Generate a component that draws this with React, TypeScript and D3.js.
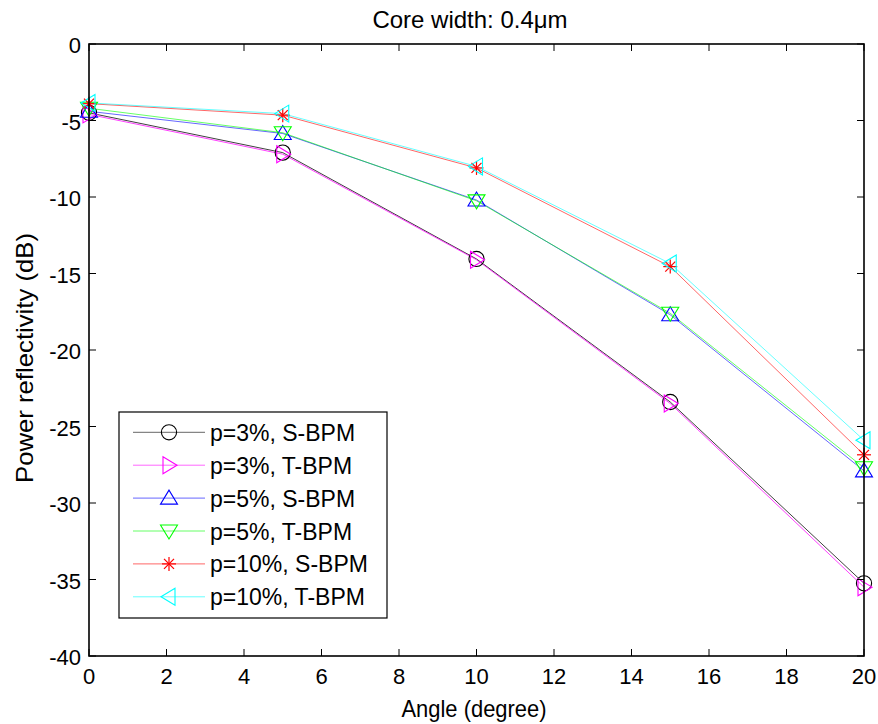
import React from "react";
import * as d3 from "d3";

const angles = [0, 5, 10, 15, 20];
const p3S = [-4.5, -7.1, -14.05, -23.4, -35.25];
const p3T = [-4.6, -7.2, -14.1, -23.5, -35.5];
const p5S = [-4.4, -5.85, -10.2, -17.7, -27.9];
const p5T = [-4.2, -5.8, -10.25, -17.6, -27.7];
const p10S = [-3.9, -4.65, -8.1, -14.55, -26.85];
const p10T = [-3.85, -4.55, -8.0, -14.35, -25.9];
const seriesNames = ["p=3%, S-BPM", "p=3%, T-BPM", "p=5%, S-BPM", "p=5%, T-BPM", "p=10%, S-BPM", "p=10%, T-BPM"];
const seriesColors = ["#000000", "#ff00ff", "#0000ff", "#00ff00", "#ff0000", "#00ffff"];
const seriesMarkers = ["circle", "triRight", "triUp", "triDown", "star", "triLeft"];
const seriesValues = [p3S, p3T, p5S, p5T, p10S, p10T];
const xTicks = [0, 2, 4, 6, 8, 10, 12, 14, 16, 18, 20];
const yTicks = [0, -5, -10, -15, -20, -25, -30, -35, -40];

const L = 89, R = 864, T = 44, B = 656;
const font = "Arial, 'Liberation Sans', sans-serif";

function Marker({ kind, x, y, color }: { kind: string; x: number; y: number; color: string }) {
  const w = 8.5, h1 = 8, h2 = 6;
  const common = { fill: "none", stroke: color, strokeWidth: 1.1 };
  if (kind === "circle") return <circle cx={x} cy={y} r={7.6} {...common} />;
  if (kind === "triUp")
    return <polygon points={`${x},${y - h1} ${x - w},${y + h2} ${x + w},${y + h2}`} {...common} />;
  if (kind === "triDown")
    return <polygon points={`${x},${y + h1} ${x - w},${y - h2} ${x + w},${y - h2}`} {...common} />;
  if (kind === "triRight")
    return <polygon points={`${x + h1},${y} ${x - h2},${y - w} ${x - h2},${y + w}`} {...common} />;
  if (kind === "triLeft")
    return <polygon points={`${x - h1},${y} ${x + h2},${y - w} ${x + h2},${y + w}`} {...common} />;
  const a = 7, b = 5;
  return (
    <g stroke={color} strokeWidth={1.2}>
      <line x1={x - a} y1={y} x2={x + a} y2={y} />
      <line x1={x} y1={y - a} x2={x} y2={y + a} />
      <line x1={x - b} y1={y - b} x2={x + b} y2={y + b} />
      <line x1={x - b} y1={y + b} x2={x + b} y2={y - b} />
    </g>
  );
}

export default function App() {
  const xs = d3.scaleLinear().domain([0, 20]).range([L, R]);
  const ys = d3.scaleLinear().domain([-40, 0]).range([B, T]);
  const line = d3
    .line<[number, number]>()
    .x((d) => xs(d[0]))
    .y((d) => ys(d[1]));

  const legX = 119, legY = 412, legW = 268, legH = 206;
  const rowY = (i: number) => 432.3 + i * 32.9;

  return (
    <svg width={878} height={724} style={{ position: "absolute", left: 0, top: 0, background: "#fff" }}>
      <rect x={0} y={0} width={878} height={724} fill="#fff" />
      {seriesValues.map((vals, i) => (
        <path
          key={"l" + i}
          d={line(angles.map((a, j) => [a, vals[j]] as [number, number])) || ""}
          fill="none"
          stroke={seriesColors[i]}
          strokeWidth={1}
          strokeOpacity={i < 2 ? 0.75 : 0.6}
        />
      ))}
      {seriesValues.map((vals, i) =>
        angles.map((a, j) => (
          <Marker key={`m${i}-${j}`} kind={seriesMarkers[i]} x={xs(a)} y={ys(vals[j])} color={seriesColors[i]} />
        ))
      )}
      <rect x={L} y={T} width={R - L} height={B - T} fill="none" stroke="#000" strokeWidth={1.6} />
      {xTicks.map((t) => (
        <g key={"xt" + t}>
          <line x1={xs(t)} x2={xs(t)} y1={B} y2={B - 7} stroke="#000" />
          <line x1={xs(t)} x2={xs(t)} y1={T} y2={T + 7} stroke="#000" />
          <text x={xs(t)} y={B + 28} textAnchor="middle" fontFamily={font} fontSize={22}>
            {t}
          </text>
        </g>
      ))}
      {yTicks.map((t) => (
        <g key={"yt" + t}>
          <line x1={L} x2={L + 7} y1={ys(t)} y2={ys(t)} stroke="#000" />
          <line x1={R} x2={R - 7} y1={ys(t)} y2={ys(t)} stroke="#000" />
          <text x={L - 8} y={ys(t) + 9} textAnchor="end" fontFamily={font} fontSize={22}>
            {t}
          </text>
        </g>
      ))}
      <text x={470} y={28} textAnchor="middle" fontFamily={font} fontSize={24}>
        Core width: 0.4μm
      </text>
      <text x={474} y={717} textAnchor="middle" fontFamily={font} fontSize={24} textLength={145} lengthAdjust="spacingAndGlyphs">
        Angle (degree)
      </text>
      <text
        transform={`translate(33, 358) rotate(-90)`}
        textAnchor="middle"
        fontFamily={font}
        fontSize={24}
        textLength={250}
        lengthAdjust="spacingAndGlyphs"
      >
        Power reflectivity (dB)
      </text>
      <rect x={legX} y={legY} width={legW} height={legH} fill="#fff" stroke="#000" strokeWidth={1.2} />
      {seriesNames.map((n, i) => (
        <g key={"lg" + i}>
          <line x1={133} x2={205} y1={rowY(i)} y2={rowY(i)} stroke={seriesColors[i]} strokeOpacity={0.6} />
          <Marker kind={seriesMarkers[i]} x={169} y={rowY(i)} color={seriesColors[i]} />
          <text x={210} y={rowY(i) + 8.5} fontFamily={font} fontSize={23}>
            {n}
          </text>
        </g>
      ))}
    </svg>
  );
}
